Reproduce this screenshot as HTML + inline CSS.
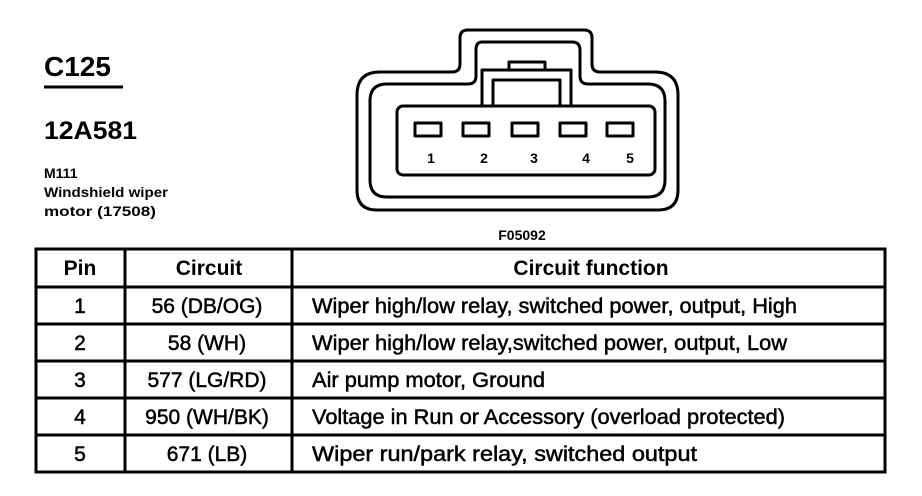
<!DOCTYPE html>
<html><head><meta charset="utf-8"><style>
html,body{margin:0;padding:0;background:#fff;}
svg{display:block;}
text{font-family:"Liberation Sans",Arial,sans-serif;fill:#000;}
</style></head><body>
<svg width="922" height="496" viewBox="0 0 922 496" xmlns="http://www.w3.org/2000/svg">
<text x="44" y="76" font-size="28" font-weight="bold">C125</text>
<line x1="44" y1="87" x2="123" y2="87" stroke="#000" stroke-width="3"/>
<text x="44" y="139" font-size="25" font-weight="bold" textLength="93" lengthAdjust="spacingAndGlyphs">12A581</text>
<text x="44" y="178" font-size="14" font-weight="bold">M111</text>
<text x="44" y="197" font-size="14" font-weight="bold" textLength="124" lengthAdjust="spacingAndGlyphs">Windshield wiper</text>
<text x="44" y="216" font-size="14" font-weight="bold" textLength="112" lengthAdjust="spacingAndGlyphs">motor (17508)</text>

<g fill="none" stroke="#000" stroke-width="3" stroke-linejoin="round">
<path d="M468,30 H584 Q592,30 592,38 V64 Q592,72 600,72 H655 Q678,72 678,95 V190 Q678,210 658,210 H377 Q357,210 357,190 V95 Q357,72 380,72 H452 Q460,72 460,64 V38 Q460,30 468,30 Z"/>
<path d="M482,42 H572 Q580,42 580,50 V76 Q580,84 588,84 H648 Q665,84 665,101 V180 Q665,197 648,197 H387 Q370,197 370,180 V101 Q370,84 387,84 H468 Q476,84 476,76 V50 Q476,42 482,42 Z"/>
<rect x="397" y="106" width="258" height="69" rx="6"/>
<path d="M482,105 V70 H571 V105"/>
<path d="M493,105 V80 H560 V105"/>
<path d="M509,70 V62 H545 V70"/>
<rect x="415" y="123" width="26" height="13"/>
<rect x="463" y="123" width="26" height="13"/>
<rect x="512" y="123" width="26" height="13"/>
<rect x="560" y="123" width="26" height="13"/>
<rect x="607" y="123" width="26" height="13"/>
</g>
<g font-size="14" font-weight="bold" text-anchor="middle">
<text x="431" y="163">1</text>
<text x="484" y="163">2</text>
<text x="534" y="163">3</text>
<text x="586" y="163">4</text>
<text x="630" y="163">5</text>
</g>
<text x="522" y="240" font-size="14" font-weight="bold" text-anchor="middle">F05092</text>

<g stroke="#000" stroke-width="3" fill="none">
<rect x="36" y="249" width="849" height="223"/>
<line x1="125" y1="249" x2="125" y2="472"/>
<line x1="292" y1="249" x2="292" y2="472"/>
<line x1="36" y1="287" x2="885" y2="287"/>
<line x1="36" y1="324" x2="885" y2="324"/>
<line x1="36" y1="361" x2="885" y2="361"/>
<line x1="36" y1="398" x2="885" y2="398"/>
<line x1="36" y1="435" x2="885" y2="435"/>
</g>
<g font-size="21" font-weight="bold" text-anchor="middle">
<text x="80" y="275">Pin</text>
<text x="209" y="275">Circuit</text>
<text x="591" y="275">Circuit function</text>
</g>
<g font-size="21" text-anchor="middle" stroke="#000" stroke-width="0.5">
<text x="80" y="313">1</text><text x="207" y="313">56 (DB/OG)</text>
<text x="80" y="350">2</text><text x="207" y="350">58 (WH)</text>
<text x="80" y="387">3</text><text x="207" y="387">577 (LG/RD)</text>
<text x="80" y="424">4</text><text x="207" y="424">950 (WH/BK)</text>
<text x="80" y="461">5</text><text x="207" y="461">671 (LB)</text>
</g>
<g font-size="21" stroke="#000" stroke-width="0.5">
<text x="312" y="313" textLength="485" lengthAdjust="spacingAndGlyphs">Wiper high/low relay, switched power, output, High</text>
<text x="312" y="350" textLength="475" lengthAdjust="spacingAndGlyphs">Wiper high/low relay,switched power, output, Low</text>
<text x="312" y="387" textLength="233" lengthAdjust="spacingAndGlyphs">Air pump motor, Ground</text>
<text x="312" y="424" textLength="473" lengthAdjust="spacingAndGlyphs">Voltage in Run or Accessory (overload protected)</text>
<text x="312" y="461" textLength="385" lengthAdjust="spacingAndGlyphs">Wiper run/park relay, switched output</text>
</g>
</svg>
</body></html>
